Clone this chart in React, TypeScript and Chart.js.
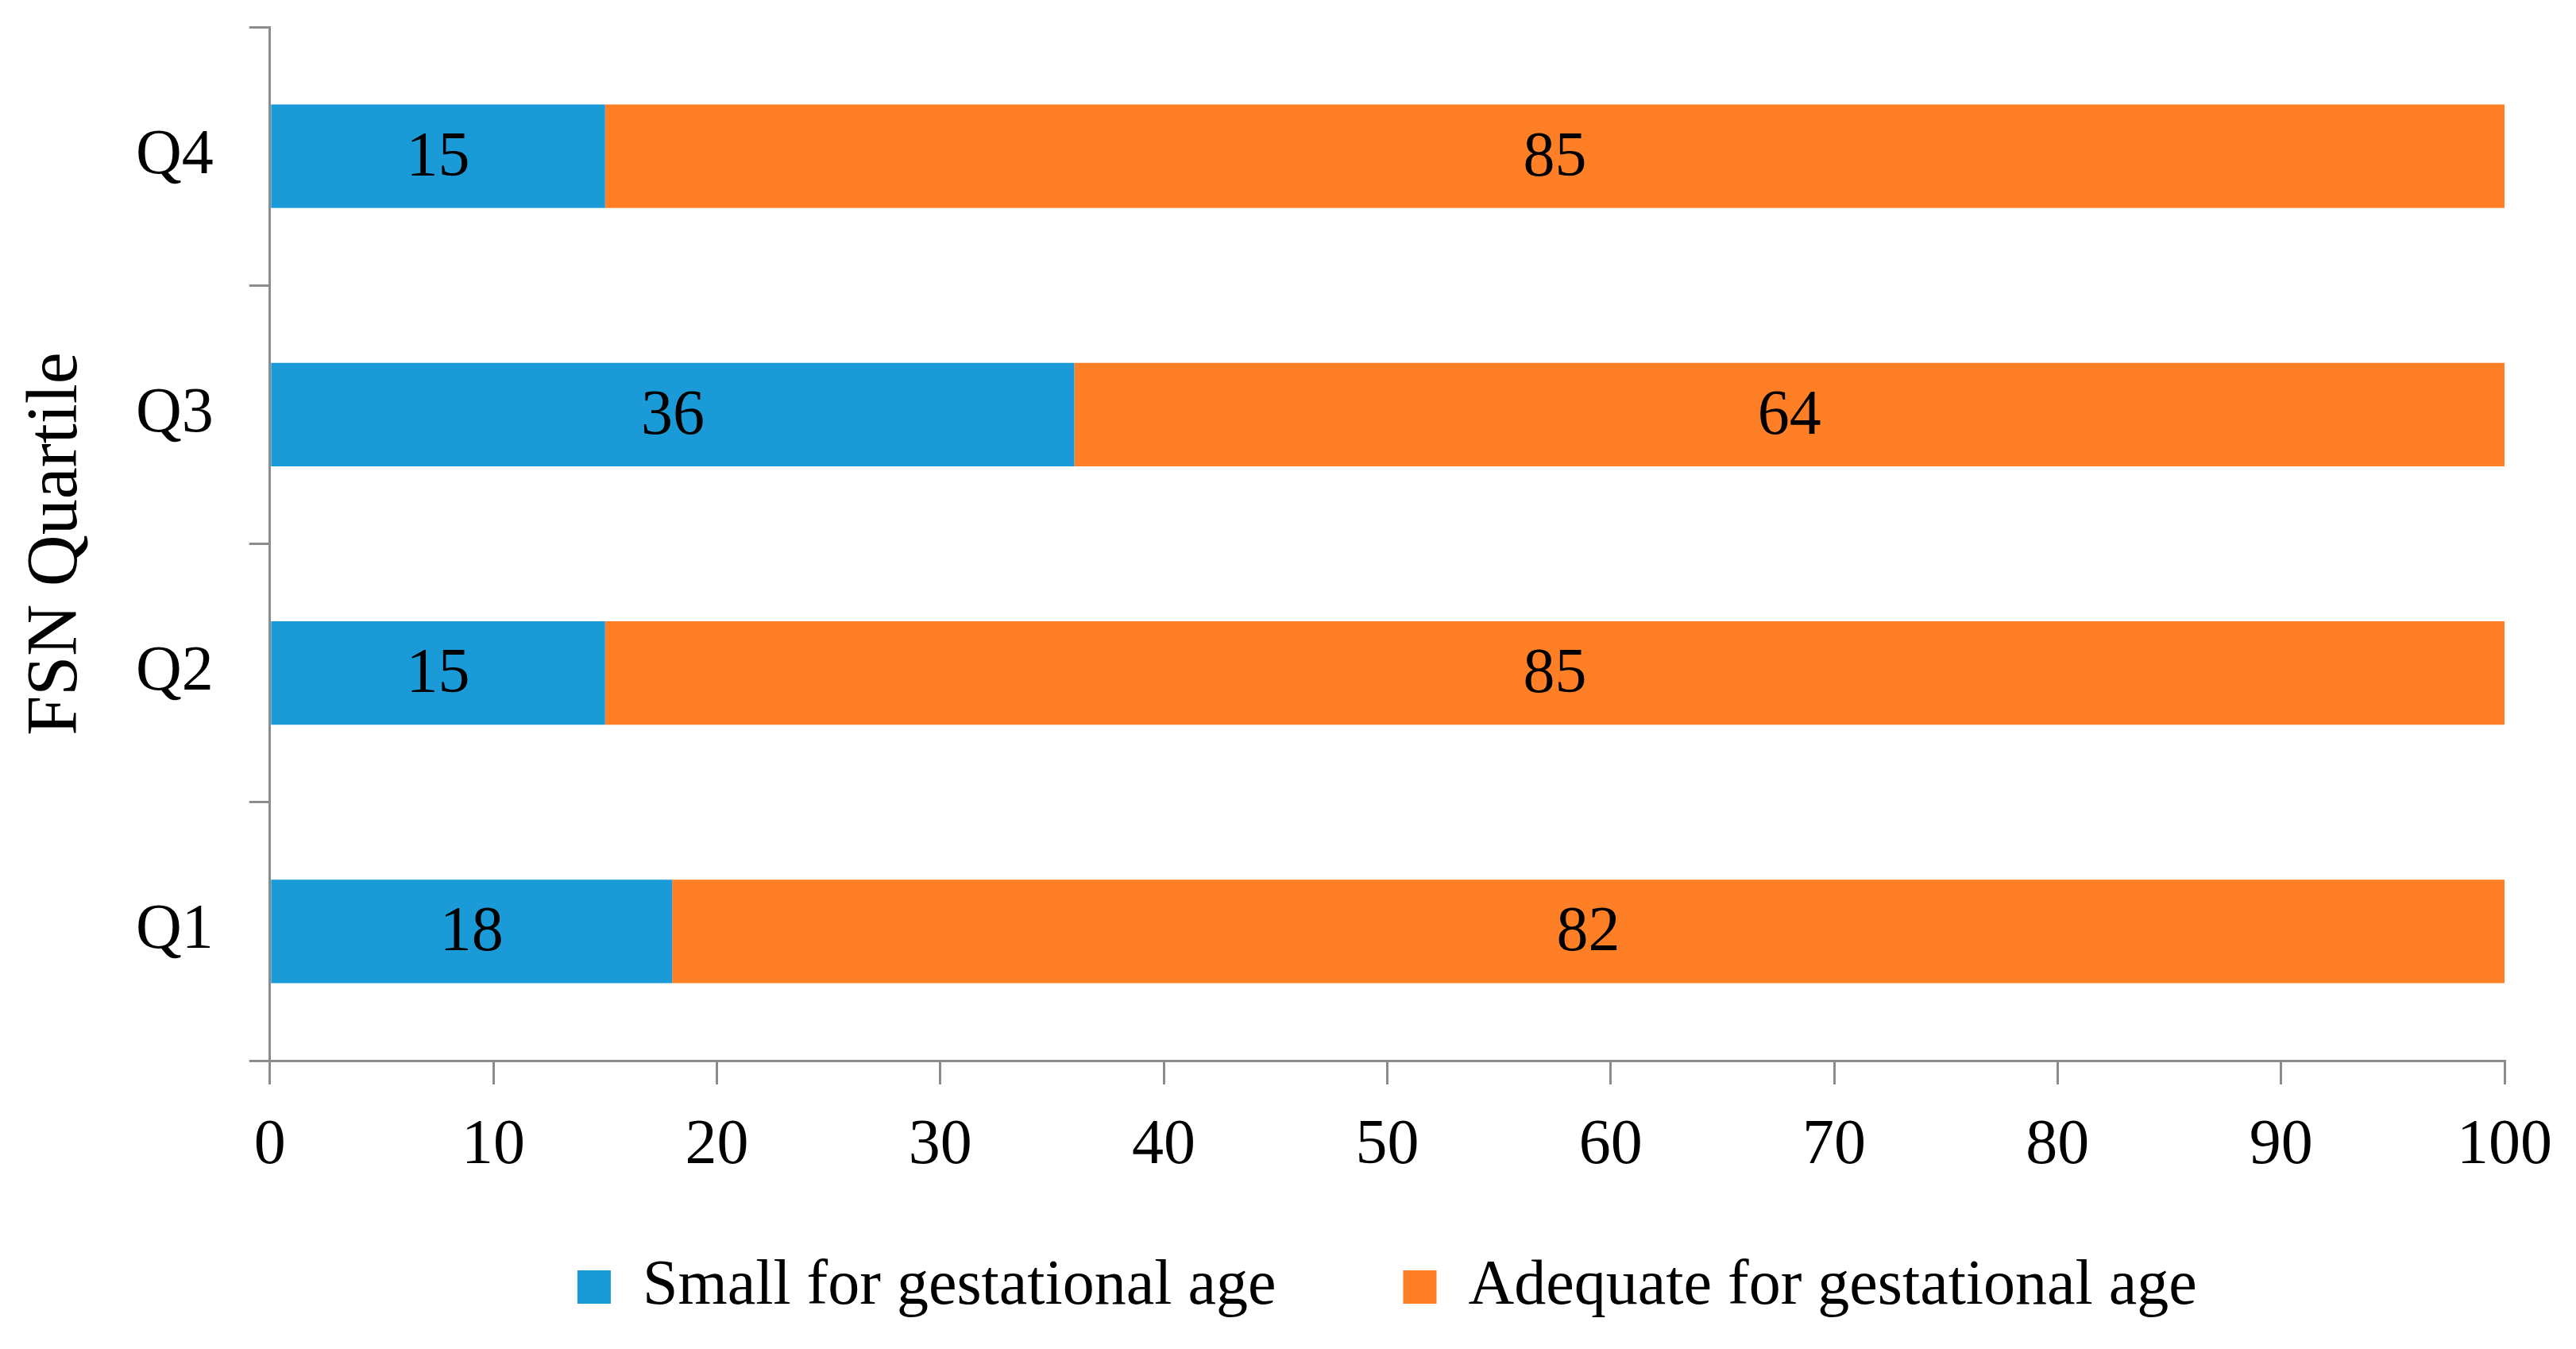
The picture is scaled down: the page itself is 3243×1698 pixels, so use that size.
import { useEffect, useRef } from 'react';
import { Chart, registerables } from 'chart.js';

Chart.register(...registerables);

// data (bottom to top)
const quartiles = ['Q1', 'Q2', 'Q3', 'Q4'];
const smallForAge = [18, 15, 36, 15];
const adequateForAge = [82, 85, 64, 85];
const seriesNames = ['Small for gestational age', 'Adequate for gestational age'];

const FONT = '"Liberation Serif", "Times New Roman", serif';
const FONT_SIZE = 80;
const AXIS_GRAY = '#8c8c8c';

// writes each segment's value in the middle of the bar
const barValueLabels = {
  id: 'barValueLabels',
  afterDatasetsDraw(chart: any) {
    const { ctx } = chart;
    ctx.save();
    ctx.font = `${FONT_SIZE}px ${FONT}`;
    ctx.fillStyle = '#000';
    ctx.textAlign = 'center';
    ctx.textBaseline = 'middle';
    chart.data.datasets.forEach((ds: any, i: number) => {
      const meta = chart.getDatasetMeta(i);
      meta.data.forEach((bar: any, j: number) => {
        const { x, y, base } = bar.getProps(['x', 'y', 'base'], true);
        ctx.fillText(String(ds.data[j]), (x + base) / 2, y + 3);
      });
    });
    ctx.restore();
  },
};

// the x scale is fitted short so the legend can keep wide item spacing;
// stretch its box back after layout so its tick labels are not clipped
const unclipXLabels = {
  id: 'unclipXLabels',
  afterLayout(chart: any) {
    const x = chart.scales.x;
    if (x) x.bottom = x.top + 220;
  },
};

const App: React.FC = () => {
  const chartRef = useRef<HTMLCanvasElement>(null);
  const chartInstance = useRef<Chart | null>(null);

  useEffect(() => {
    if (!chartRef.current) return;
    if (chartInstance.current) chartInstance.current.destroy();

    const ctx = chartRef.current.getContext('2d');
    if (!ctx) return;

    chartInstance.current = new Chart(ctx, {
      type: 'bar',
      data: {
        labels: quartiles,
        datasets: [
          {
            label: seriesNames[0],
            data: smallForAge,
            backgroundColor: '#1a9bd7',
            barPercentage: 0.5,
            categoryPercentage: 0.8,
          },
          {
            label: seriesNames[1],
            data: adequateForAge,
            backgroundColor: '#ff7f27',
            barPercentage: 0.5,
            categoryPercentage: 0.8,
          },
        ],
      },
      options: {
        indexAxis: 'y',
        responsive: true,
        maintainAspectRatio: false,
        animation: false,
        layout: { padding: { top: 34, right: 30, bottom: 28, left: 0 } },
        scales: {
          x: {
            stacked: true,
            min: 0,
            max: 100,
            ticks: {
              stepSize: 10,
              color: '#000',
              padding: 30,
              font: { family: FONT, size: FONT_SIZE },
            },
            grid: {
              drawOnChartArea: false,
              drawTicks: true,
              tickLength: 30,
              color: AXIS_GRAY,
              lineWidth: 3,
            },
            border: { color: AXIS_GRAY, width: 3 },
            afterFit(scale: any) {
              scale.height = 85;
            },
          },
          y: {
            stacked: true,
            reverse: true,
            ticks: {
              color: '#000',
              padding: 45,
              font: { family: FONT, size: FONT_SIZE },
            },
            grid: {
              drawOnChartArea: false,
              drawTicks: true,
              tickLength: 26,
              offset: true,
              color: AXIS_GRAY,
              lineWidth: 3,
            },
            border: { color: AXIS_GRAY, width: 3 },
            title: {
              display: true,
              text: 'FSN Quartile',
              color: '#000',
              font: { family: FONT, size: 90 },
              padding: { top: 18, bottom: 0 },
            },
            afterFit(scale: any) {
              scale.paddingTop = 0;
              scale.paddingBottom = 0;
            },
          },
        },
        plugins: {
          legend: {
            position: 'bottom',
            fullSize: false,
            labels: {
              boxWidth: 42,
              boxHeight: 42,
              padding: 160,
              color: '#000',
              font: { family: FONT, size: FONT_SIZE },
            },
          },
          tooltip: { enabled: false },
        },
      },
      plugins: [barValueLabels, unclipXLabels],
    });

    return () => {
      if (chartInstance.current) {
        chartInstance.current.destroy();
        chartInstance.current = null;
      }
    };
  }, []);

  return (
    <div style={{ position: 'fixed', left: 0, top: 0, width: '100vw', height: '100vh', background: '#fff' }}>
      <canvas ref={chartRef} />
    </div>
  );
};

export default App;
